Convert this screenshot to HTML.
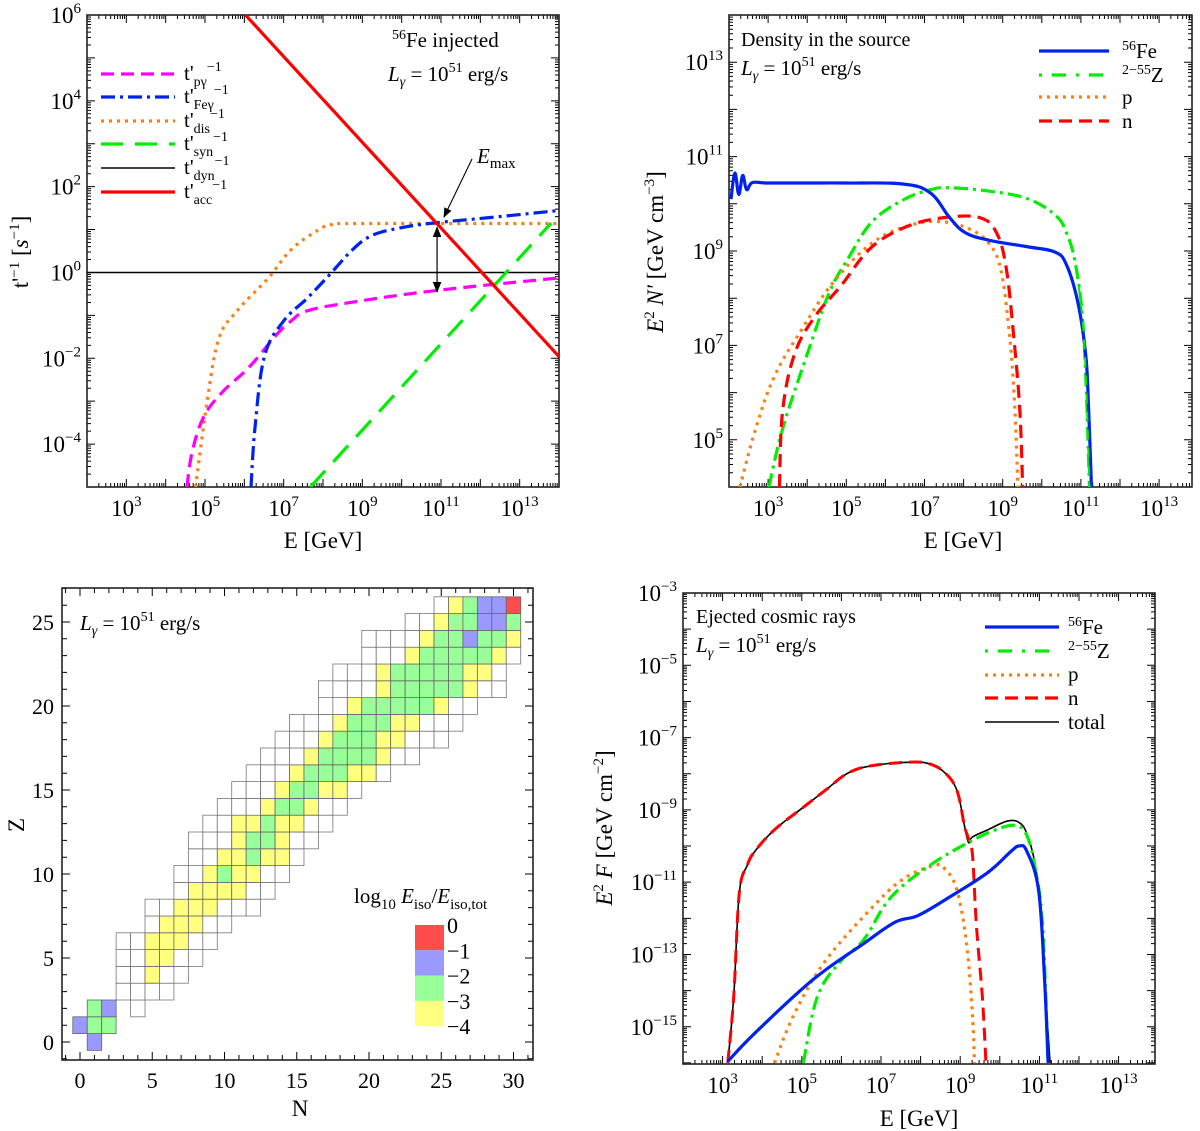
<!DOCTYPE html>
<html><head><meta charset="utf-8">
<style>
html,body{margin:0;padding:0;background:#fff;}
svg{display:block;font-family:"Liberation Serif",serif;}
</style></head>
<body>
<svg id="fig" width="1200" height="1131" viewBox="0 0 1200 1131" xmlns="http://www.w3.org/2000/svg">
<defs>
<marker id="ah" viewBox="0 0 10 10" refX="9" refY="5" markerWidth="9" markerHeight="9" orient="auto-start-reverse"><path d="M0,1 L10,5 L0,9 z" fill="#000"/></marker>
</defs>
</svg>
<script>
// ---------- Panel 1 data (log10 E, log10 t'^-1) ----------
const p1AccX=[6.03,14];             const p1AccY=[6,-1.96];
const p1DynX=[2,14];                const p1DynY=[0,0];
const p1DisX=[4.76,5.05,5.35,5.83,6.61,7.19,7.88,8.26,9,14];
const p1DisY=[-5,-3.04,-1.55,-0.88,-0.13,0.53,0.99,1.12,1.14,1.14];
const p1PgX=[4.54,4.67,4.96,5.44,6.12,6.81,7.19,7.58,8.56,10.79,13.96];
const p1PgY=[-5,-4.2,-3.38,-2.79,-2.21,-1.46,-1.13,-0.9,-0.72,-0.43,-0.13];
const p1FeX=[6.17,6.27,6.51,7.0,7.6,8.17,8.75,9.24,9.92,10.79,12.25,13.96];
const p1FeY=[-5,-3.63,-1.96,-1.13,-0.6,-0.05,0.53,0.86,1.03,1.15,1.28,1.44];
const p1SynX=[7.68,13.8];           const p1SynY=[-5,1.15];
// ---------- Panel 2 data (log10 E, log10 E^2 N') ----------
const p2FeX=[2.05,2.15,2.25,2.35,2.45,2.6,3,4,5,6.45,7.15,7.65,8.04,8.64,9.63,10.33,10.63,10.93,11.13,11.2,11.27];
const p2FeY=[10.1,10.65,10.2,10.6,10.3,10.45,10.44,10.44,10.44,10.42,10.23,9.7,9.39,9.23,9.09,8.98,8.71,7.88,6.74,5.6,4];
const p2ZX=[3.02,3.37,3.97,4.56,5.06,5.66,6.45,7.15,7.65,8.64,9.63,10.33,10.63,10.88,11.08,11.22];
const p2ZY=[4,5.23,6.74,8.11,8.86,9.62,10.08,10.3,10.34,10.27,10.11,9.77,9.39,8.64,7.12,4];
const p2PX=[2.28,2.68,3.17,3.87,4.66,5.66,6.65,7.45,8.14,8.64,8.94,9.14,9.29,9.39];
const p2PY=[4,5.23,6.36,7.35,8.33,9.17,9.55,9.62,9.47,9.17,8.64,7.5,5.98,4];
const p2NX=[3.29,3.37,3.67,4.17,4.86,5.66,6.65,7.65,8.44,8.84,9.09,9.29,9.44,9.51];
const p2NY=[4,5.6,6.8,7.58,8.26,9.09,9.55,9.72,9.7,9.39,8.64,7.12,5.6,4];
// ---------- Panel 4 data (log10 E, log10 E^2 F) ----------
const p4NX=[3.13,3.28,3.42,3.62,3.82,4.31,5.0,5.58,6.17,6.76,7.74,8.23,8.62,8.92,9.11,9.21,9.31,9.41,9.56,9.65];
const p4NY=[-16,-14.18,-11.32,-10.54,-10.14,-9.55,-8.96,-8.47,-7.98,-7.78,-7.68,-7.73,-7.98,-8.47,-9.45,-9.8,-10.24,-12.21,-14.18,-16];
const p4TotX=[3.13,3.28,3.42,3.62,3.82,4.31,5.0,5.58,6.17,6.76,7.74,8.23,8.62,8.92,9.11,9.21,9.31,9.7,10.19,10.49,10.68,10.88,11.03,11.13,11.27];
const p4TotY=[-16,-14.18,-11.32,-10.54,-10.14,-9.55,-8.96,-8.47,-7.98,-7.78,-7.68,-7.73,-7.98,-8.47,-9.45,-9.9,-9.75,-9.55,-9.31,-9.35,-9.65,-10.44,-11.72,-13.69,-16];
const p4ZX=[5.04,5.39,5.97,6.56,7.25,8.23,9.21,9.9,10.39,10.68,10.88,11.08,11.22];
const p4ZY=[-16,-14.18,-13.2,-12.6,-11.42,-10.54,-9.9,-9.55,-9.43,-9.7,-10.54,-12.2,-16];
const p4FeX=[3.13,3.82,5.29,6.56,7.35,7.94,8.72,9.7,10.29,10.49,10.68,10.98,11.13,11.22];
const p4FeY=[-15.96,-15.17,-13.69,-12.7,-12.11,-11.92,-11.42,-10.73,-10.14,-10.0,-10.14,-11.23,-13.69,-16];
const p4PX=[4.31,4.8,5.58,6.76,7.54,8.33,8.62,8.92,9.16,9.31,9.36];
const p4PY=[-16,-14.67,-13.2,-11.72,-10.93,-10.54,-10.64,-11.23,-12.7,-14.67,-16];
// ---------- Panel 3 data: per Z row, first N and colour codes (w,y,g,b,r, '.'=none) ----------
const p3RowZ=[0,1,2,3,4,5,6,7,8,9,10,11,12,13,14,15,16,17,18,19,20,21,22,23,24,25,26];
const p3RowStart=[1,0,1,3,3,3,3,5,5,7,7,8,8,9,10,11,12,13,14,15,17,17,18,20,20,23,25];
const p3RowCells=["b","bgg","gb.w","wwww","wwyww","wwyyww","wwyyyww","wyyyww","wwyyywww","wyyyyww","wwygyyww","wwyygyyw","wwwyggyww","wwyygyyww","wwwyggyww","wwwyggyyw","wwwygggyyw","wwwyggggyww","wwwygggyywww","wwwygggyywww","wwygggggyww","wwwwygggggyww","wwwygggggyyw","wwwygggggyw","wwwwyggbggy","wwyggbbg","wygbbr"];
const p3Legend=["0","\u22121","\u22122","\u22123","\u22124"];

const svg=document.getElementById('fig');
const NS='http://www.w3.org/2000/svg';
function mk(tag,attrs,parent){const e=document.createElementNS(NS,tag);for(const k in attrs)e.setAttribute(k,attrs[k]);(parent||svg).appendChild(e);return e;}

function panel(o){
  o.sx=v=>o.x0+(v-o.xmin)/(o.xmax-o.xmin)*(o.x1-o.x0);
  o.sy=v=>o.y1-(v-o.ymin)/(o.ymax-o.ymin)*(o.y1-o.y0);
  return o;
}
const P1=panel({x0:87,x1:559,y0:15,y1:487,xmin:2,xmax:14,ymin:-5,ymax:6});
const P2=panel({x0:729,x1:1192,y0:15,y1:487,xmin:2,xmax:2+463/39.1,ymin:4,ymax:14});
const P4=panel({x0:683,x1:1155,y0:593,y1:1064,xmin:2,xmax:2+472/39.6,ymin:-16.03,ymax:-3});

function supLabel(g,x,y,base,sup,anchor){
  const t=mk('text',{x:x,y:y,'font-size':23,'text-anchor':anchor,fill:'#000'},g);
  t.appendChild(document.createTextNode(base));
  const s=mk('tspan',{dy:-10,'font-size':15},t);s.textContent=sup;
  return t;
}

function logAxes(P,name,xLab,yLab){
  const g=mk('g',{});
  
  
  const clip=mk('clipPath',{id:name+'-clip'},g);
  mk('rect',{x:P.x0,y:P.y0,width:P.x1-P.x0,height:P.y1-P.y0},clip);
  let d='';
  for(let e=Math.floor(P.xmin);e<=Math.ceil(P.xmax);e++){
    for(let m=1;m<10;m++){
      const v=e+Math.log10(m); if(v<P.xmin-1e-6||v>P.xmax+1e-6)continue;
      const x=P.sx(v).toFixed(2), L=m===1?8:4;
      d+=`M${x},${P.y1}v${-L}M${x},${P.y0}v${L}`;
    }
  }
  for(let e=Math.floor(P.ymin);e<=Math.ceil(P.ymax);e++){
    for(let m=1;m<10;m++){
      const v=e+Math.log10(m); if(v<P.ymin-1e-6||v>P.ymax+1e-6)continue;
      const y=P.sy(v).toFixed(2), L=m===1?8:4;
      d+=`M${P.x0},${y}h${L}M${P.x1},${y}h${-L}`;
    }
  }
  mk('path',{d:d,stroke:'#000','stroke-width':1,fill:'none'},g);
  const fr=mk('rect',{x:P.x0,y:P.y0,width:P.x1-P.x0,height:P.y1-P.y0,fill:'none',stroke:'#222','stroke-width':1.6},g);
  
  
  xLab.forEach(e=>{const t=supLabel(g,P.sx(e),P.y1+29,'10',String(e).replace('-','\u2212'),'middle');
    
    });
  yLab.forEach(e=>{const t=supLabel(g,P.x0-6,P.sy(e)+8,'10',String(e).replace('-','\u2212'),'end');
    
    });
  return g;
}

function smoothPath(pts){
  if(pts.length<3){return pts.map((p,i)=>(i?'L':'M')+p[0].toFixed(2)+','+p[1].toFixed(2)).join('');}
  let d='M'+pts[0][0].toFixed(2)+','+pts[0][1].toFixed(2);
  const t=0.18;
  for(let i=0;i<pts.length-1;i++){
    const p0=pts[i-1]||pts[i],p1=pts[i],p2=pts[i+1],p3=pts[i+2]||pts[i+1];
    const c1=[p1[0]+(p2[0]-p0[0])*t,p1[1]+(p2[1]-p0[1])*t];
    const c2=[p2[0]-(p3[0]-p1[0])*t,p2[1]-(p3[1]-p1[1])*t];
    d+='C'+c1[0].toFixed(2)+','+c1[1].toFixed(2)+' '+c2[0].toFixed(2)+','+c2[1].toFixed(2)+' '+p2[0].toFixed(2)+','+p2[1].toFixed(2);
  }
  return d;
}

function series(P,name,xs,ys,color,width,dash){
  const pts=xs.map((x,i)=>[P.sx(x),P.sy(ys[i])]);
  const a={d:smoothPath(pts),fill:'none',stroke:color,'stroke-width':width,'stroke-linejoin':'round','clip-path':`url(#${P.clipId})`};
  if(dash)a['stroke-dasharray']=dash;
  const p=mk('path',a);
  
  
  return p;
}

function legendRow(x1,x2,y,color,width,dash,name){
  const a={x1:x1,x2:x2,y1:y,y2:y,stroke:color,'stroke-width':width};
  if(dash)a['stroke-dasharray']=dash;
  const l=mk('line',a);
  
  
}

function txt(x,y,size,str,anchor,name,italic){
  const t=mk('text',{x:x,y:y,'font-size':size,'text-anchor':anchor||'start',fill:'#000'});
  if(italic)t.setAttribute('font-style','italic');
  t.textContent=str;
  
  
  return t;
}
function lumLabel(x,y,name){
  const t=mk('text',{x:x,y:y,'font-size':21,fill:'#000'});
  
  
  let s=mk('tspan',{'font-style':'italic'},t);s.textContent='L';
  s=mk('tspan',{'font-style':'italic','font-size':14,dy:5},t);s.textContent='\u03b3';
  s=mk('tspan',{dy:-5},t);s.textContent=' = 10';
  s=mk('tspan',{dy:-9,'font-size':14},t);s.textContent='51';
  s=mk('tspan',{dy:9},t);s.textContent=' erg/s';
}
function tLabel(x,y,sub,name){
  const t=mk('text',{x:x,y:y,'font-size':21,fill:'#000'});
  
  
  t.appendChild(document.createTextNode("t'"));
  let s=mk('tspan',{dy:6,'font-size':14},t);s.textContent=sub;
  s=mk('tspan',{dy:-15,'font-size':14},t);s.textContent='\u22121';
}

// ================= Panel 1 =================
P1.clipId='p1-clip';
logAxes(P1,'p1',[3,5,7,9,11,13],[-4,-2,0,2,4,6]);
series(P1,'dyn-line',p1DynX,p1DynY,'#000',1.5);
series(P1,'dis-line',p1DisX,p1DisY,'#ff7f0e',3.2,'3,5');
series(P1,'pgamma-line',p1PgX,p1PgY,'#ff00ff',3.2,'13,7');
series(P1,'fegamma-line',p1FeX,p1FeY,'#0022ee',3.2,'14,5,3,5');
series(P1,'syn-line',p1SynX,p1SynY,'#00ee00',3.2,'22,12');
series(P1,'acc-line',p1AccX,p1AccY,'#ff0000',3.2);
(function(){
  const x=P1.sx(10.9);
  const a=mk('line',{x1:x,x2:x,y1:P1.sy(-0.45),y2:P1.sy(1.05),stroke:'#000','stroke-width':1.2,'marker-start':'url(#ah)','marker-end':'url(#ah)'});
  
  
  const b=mk('line',{x1:472,y1:159,x2:444,y2:217,stroke:'#000','stroke-width':1.1,'marker-end':'url(#ah)'});
  
  
  const t=mk('text',{x:477,y:163,'font-size':21,fill:'#000'});
  
  
  let s=mk('tspan',{'font-style':'italic'},t);s.textContent='E';
  s=mk('tspan',{dy:5,'font-size':15},t);s.textContent='max';
})();
legendRow(101,175,74,'#ff00ff',3.2,'13,7','legend-pgamma-line');
legendRow(101,175,97,'#0022ee',3.2,'14,5,3,5','legend-fegamma-line');
legendRow(101,175,121,'#ff7f0e',3.2,'3,5','legend-dis-line');
legendRow(101,175,144,'#00ee00',3.2,'22,12','legend-syn-line');
legendRow(101,175,168,'#000',1.5,null,'legend-dyn-line');
legendRow(101,175,192,'#ff0000',3.2,null,'legend-acc-line');
tLabel(184,80,'p\u03b3','legend-pgamma-label');
tLabel(184,103,'Fe\u03b3','legend-fegamma-label');
tLabel(184,127,'dis','legend-dis-label');
tLabel(184,150,'syn','legend-syn-label');
tLabel(184,174,'dyn','legend-dyn-label');
tLabel(184,198,'acc','legend-acc-label');
(function(){
  const t=mk('text',{x:392,y:47,'font-size':21,fill:'#000'});
  
  
  let s=mk('tspan',{dy:-8,'font-size':14},t);s.textContent='56';
  s=mk('tspan',{dy:8},t);s.textContent='Fe injected';
})();
lumLabel(388,81,'p1-luminosity-label');
txt(323,548,23,'E [GeV]','middle','p1-x-axis-title');
(function(){
  const t=mk('text',{x:0,y:0,'font-size':23,'text-anchor':'middle',fill:'#000',transform:'translate(28,252) rotate(-90)'});
  
  
  t.appendChild(document.createTextNode("t'"));
  let s=mk('tspan',{dy:-9,'font-size':15},t);s.textContent='\u22121';
  s=mk('tspan',{dy:9},t);s.textContent=' [';
  s=mk('tspan',{'font-style':'italic'},t);s.textContent='s';
  s=mk('tspan',{dy:-9,'font-size':15},t);s.textContent='\u22121';
  s=mk('tspan',{dy:9},t);s.textContent=']';
})();

// ================= Panel 2 =================
P2.clipId='p2-clip';
logAxes(P2,'p2',[3,5,7,9,11,13],[5,7,9,11,13]);
series(P2,'p2-z-line',p2ZX,p2ZY,'#00ee00',3.2,'14,5,3,5');
series(P2,'p2-p-line',p2PX,p2PY,'#ff7f0e',3.2,'3,5');
series(P2,'p2-n-line',p2NX,p2NY,'#ff0000',3.2,'13,7');
series(P2,'p2-fe-line',p2FeX,p2FeY,'#0022ee',3.2);
series(P2,'p2-z-line-overlay',p2ZX.slice(13),p2ZY.slice(13),'#00ee00',2,'10,8');
legendRow(1039,1109,51,'#0022ee',3.2,null,'p2-legend-fe-line');
legendRow(1039,1109,75,'#00ee00',3.2,'3,10,14,10','p2-legend-z-line');
legendRow(1039,1109,97,'#ff7f0e',3.2,'3,5','p2-legend-p-line');
legendRow(1039,1109,121,'#ff0000',3.2,'13,7','p2-legend-n-line');
function isoLabel(x,y,sup,base,name){
  const t=mk('text',{x:x,y:y,'font-size':21,fill:'#000'});
  
  
  let s=mk('tspan',{dy:-8,'font-size':14},t);s.textContent=sup;
  s=mk('tspan',{dy:8},t);s.textContent=base;
}
isoLabel(1122,58,'56','Fe','p2-legend-fe-label');
isoLabel(1122,82,'2\u221255','Z','p2-legend-z-label');
txt(1122,104,21,'p','start','p2-legend-p-label');
txt(1122,128,21,'n','start','p2-legend-n-label');
txt(741,46,20,'Density in the source','start','p2-title');
lumLabel(741,75,'p2-luminosity-label');
txt(963,548,23,'E [GeV]','middle','p2-x-axis-title');
(function(){
  const t=mk('text',{x:0,y:0,'font-size':23,'text-anchor':'middle',fill:'#000',transform:'translate(663,252) rotate(-90)'});
  
  
  let s=mk('tspan',{'font-style':'italic'},t);s.textContent='E';
  s=mk('tspan',{dy:-9,'font-size':15},t);s.textContent='2';
  s=mk('tspan',{dy:9,'font-style':'italic'},t);s.textContent=" N'";
  s=mk('tspan',{},t);s.textContent=' [GeV cm';
  s=mk('tspan',{dy:-9,'font-size':15},t);s.textContent='\u22123';
  s=mk('tspan',{dy:9},t);s.textContent=']';
})();

// ================= Panel 4 =================
P4.clipId='p4-clip';
logAxes(P4,'p4',[3,5,7,9,11,13],[-15,-13,-11,-9,-7,-5,-3]);
series(P4,'p4-total-line',p4TotX,p4TotY,'#000',1.6);
series(P4,'p4-n-line',p4NX,p4NY,'#ff0000',3,'13,7');
series(P4,'p4-p-line',p4PX,p4PY,'#ff7f0e',3.2,'3,5');
series(P4,'p4-z-line',p4ZX,p4ZY,'#00ee00',3.2,'14,5,3,5');
series(P4,'p4-fe-line',p4FeX,p4FeY,'#0022ee',3.2);
legendRow(985,1059,627,'#0022ee',3.2,null,'p4-legend-fe-line');
legendRow(985,1059,651,'#00ee00',3.2,'3,10,14,10','p4-legend-z-line');
legendRow(985,1059,675,'#ff7f0e',3.2,'3,5','p4-legend-p-line');
legendRow(985,1059,698,'#ff0000',3.2,'13,7','p4-legend-n-line');
legendRow(985,1059,722,'#000',1.6,null,'p4-legend-total-line');
isoLabel(1068,634,'56','Fe','p4-legend-fe-label');
isoLabel(1068,658,'2\u221255','Z','p4-legend-z-label');
txt(1068,681,21,'p','start','p4-legend-p-label');
txt(1068,705,21,'n','start','p4-legend-n-label');
txt(1068,729,21,'total','start','p4-legend-total-label');
txt(696,623,20,'Ejected cosmic rays','start','p4-title');
lumLabel(696,652,'p4-luminosity-label');
txt(919,1126,23,'E [GeV]','middle','p4-x-axis-title');
(function(){
  const t=mk('text',{x:0,y:0,'font-size':23,'text-anchor':'middle',fill:'#000',transform:'translate(612,828) rotate(-90)'});
  
  
  let s=mk('tspan',{'font-style':'italic'},t);s.textContent='E';
  s=mk('tspan',{dy:-9,'font-size':15},t);s.textContent='2';
  s=mk('tspan',{dy:9,'font-style':'italic'},t);s.textContent=' F';
  s=mk('tspan',{},t);s.textContent=' [GeV cm';
  s=mk('tspan',{dy:-9,'font-size':15},t);s.textContent='\u22122';
  s=mk('tspan',{dy:9},t);s.textContent=']';
})();

// ================= Panel 3 (nuclide chart) =================
const P3={x0:62,x1:533,y0:588,y1:1060,n0:80,ux:14.45,z0:1042,uz:16.8};
const nx=n=>P3.n0+n*P3.ux, zy=z=>P3.z0-z*P3.uz;
const cellColor={w:'#ffffff',y:'#ffff80',g:'#99ff99',b:'#9999ff',r:'#ff4d4d'};
p3RowZ.forEach((z,i)=>{
  const cells=p3RowCells[i];
  for(let k=0;k<cells.length;k++){
    const c=cells[k]; if(c==='.')continue;
    const n=p3RowStart[i]+k;
    const r=mk('rect',{x:(nx(n)-P3.ux/2).toFixed(2),y:(zy(z)-P3.uz/2).toFixed(2),width:P3.ux.toFixed(2),height:P3.uz.toFixed(2),fill:cellColor[c],stroke:c==='w'?'#777':'#666','stroke-width':0.8});
    
    
  }
});
(function(){
  let d='';
  for(let n=-1;n<=31;n++){const x=nx(n).toFixed(2),L=n%5===0?8:5;d+=`M${x},${P3.y1}v${-L}M${x},${P3.y0}v${L}`;}
  for(let z=-1;z<=27;z++){const y=zy(z).toFixed(2),L=z%5===0?8:5;d+=`M${P3.x0},${y}h${L}M${P3.x1},${y}h${-L}`;}
  const t=mk('path',{d:d,stroke:'#000','stroke-width':1,fill:'none'});
  
  
  const f=mk('rect',{x:P3.x0,y:P3.y0,width:P3.x1-P3.x0,height:P3.y1-P3.y0,fill:'none',stroke:'#222','stroke-width':1.6});
  
  
  for(let n=0;n<=30;n+=5)txt(nx(n),P3.y1+28,22,String(n),'middle','p3-x-tick-label');
  for(let z=0;z<=25;z+=5)txt(P3.x0-8,zy(z)+8,22,String(z),'end','p3-y-tick-label');
})();
txt(300,1116,23,'N','middle','p3-x-axis-title');
(function(){
  const t=mk('text',{x:0,y:0,'font-size':23,'text-anchor':'middle',fill:'#000',transform:'translate(24,825) rotate(-90)'});
  t.textContent='Z';
  
  
})();
lumLabel(80,630,'p3-luminosity-label');
(function(){
  const t=mk('text',{x:354,y:903,'font-size':21,fill:'#000'});
  
  
  let s=mk('tspan',{},t);s.textContent='log';
  s=mk('tspan',{dy:6,'font-size':15},t);s.textContent='10';
  s=mk('tspan',{dy:-6,'font-style':'italic'},t);s.textContent=' E';
  s=mk('tspan',{dy:6,'font-size':15},t);s.textContent='iso';
  s=mk('tspan',{dy:-6},t);s.textContent='/';
  s=mk('tspan',{'font-style':'italic'},t);s.textContent='E';
  s=mk('tspan',{dy:6,'font-size':15},t);s.textContent='iso,tot';
  const cols=['#ff4d4d','#9999ff','#99ff99','#ffff80'];
  const by=925,bh=25.3;
  cols.forEach((c,i)=>{
    const r=mk('rect',{x:415,y:by+i*bh,width:29,height:bh,fill:c});
    
    
  });
  p3Legend.forEach((l,i)=>txt(447,by+i*bh+8,22,l,'start','colorbar-label'));
})();
</script>
</body></html>
